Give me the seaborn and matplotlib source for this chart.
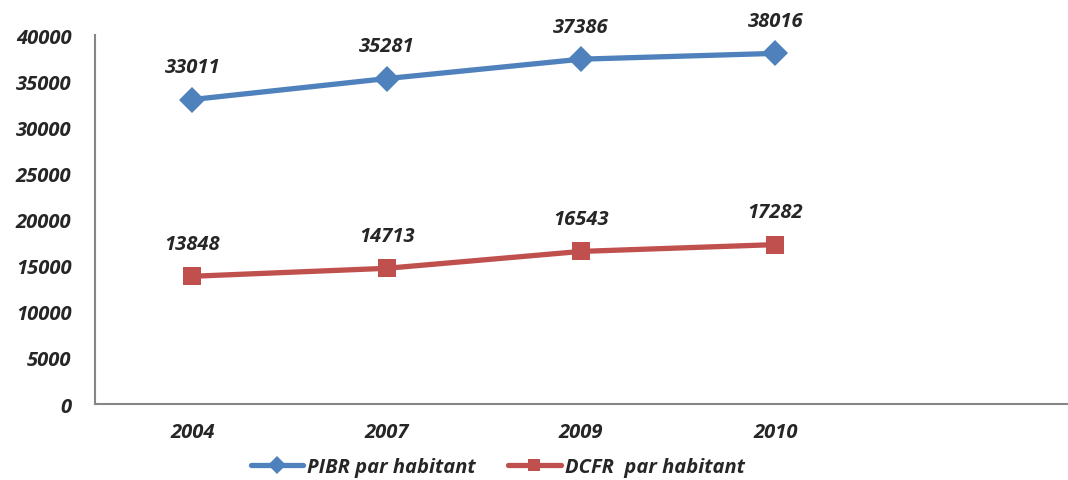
import numpy as np
import pandas as pd
import seaborn as sns
import matplotlib.pyplot as plt

# Data
years = ["2004", "2007", "2009", "2010"]
pibr = [33011, 35281, 37386, 38016]
dcfr = [13848, 14713, 16543, 17282]
series_names = ["PIBR par habitant", "DCFR  par habitant"]
colors = ["#4F81BD", "#C0504D"]
markers = ["D", "s"]

df = pd.DataFrame({
    "x": list(range(len(years))) * 2,
    "value": pibr + dcfr,
    "serie": [series_names[0]] * len(years) + [series_names[1]] * len(years),
})

sns.set_style("white")
plt.rcParams["font.family"] = ["Open Sans", "DejaVu Sans"]

fig = plt.figure(figsize=(10.68, 4.81), dpi=100)
ax = fig.add_axes([0.089, 0.158, 0.91, 0.767])

sns.lineplot(data=df, x="x", y="value", hue="serie", style="serie",
             palette=colors, markers=markers, dashes=False,
             linewidth=3.8, markersize=13.5, markeredgewidth=0, ax=ax, legend=False)

# data labels
for vals in (pibr, dcfr):
    for i, v in enumerate(vals):
        ax.annotate(str(v), (i, v), xytext=(0, 16), textcoords="offset points",
                    ha="center", va="bottom", fontsize=14.5, fontweight="bold",
                    fontstyle="italic")

ax.set_xlim(-0.5, 4.5)
ax.set_ylim(0, 40000)
ax.set_yticks(range(0, 40001, 5000))
ax.set_yticklabels([str(t) for t in range(0, 40001, 5000)])
ax.set_xticks(range(len(years)))
ax.set_xticklabels(years)
ax.set_xticks(np.arange(-0.5, 4.5, 1), minor=True)
ax.tick_params(axis="x", which="major", length=0, pad=13)
ax.tick_params(axis="x", which="minor", length=5, color="#868686", width=1.2, direction="out")
ax.tick_params(axis="y", length=5, color="#868686", width=1.2, direction="out", pad=12)
for lab in ax.get_xticklabels() + ax.get_yticklabels():
    lab.set_fontsize(14.5)
    lab.set_fontweight("bold")
    lab.set_fontstyle("italic")
ax.set_xlabel("")
ax.set_ylabel("")
for s in ["top", "right"]:
    ax.spines[s].set_visible(False)
for s in ["left", "bottom"]:
    ax.spines[s].set_color("#868686")
    ax.spines[s].set_linewidth(1.5)

handles = [plt.Line2D([], [], color=c, marker=m, linewidth=3.8, markersize=9, markeredgewidth=0)
           for c, m in zip(colors, markers)]
leg = fig.legend(handles, series_names, loc="center", bbox_to_anchor=(0.466, 0.027),
                 ncol=2, frameon=False, handlelength=2.6, handletextpad=0.2,
                 columnspacing=1.6,
                 prop={"size": 14.5, "weight": "bold", "style": "italic"})

fig.savefig("out.png", dpi=100)
